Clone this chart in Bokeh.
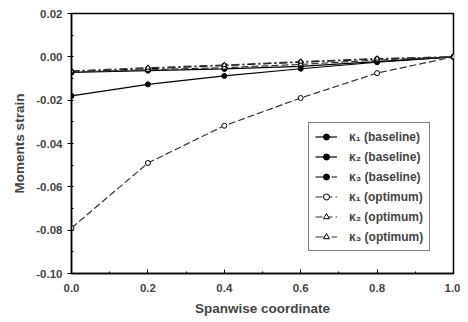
from bokeh.plotting import figure
from bokeh.models import Legend, LegendItem, FixedTicker, Range1d, CustomJSTickFormatter
from bokeh.embed import file_html
from bokeh.resources import INLINE

# Data
x = [0.0, 0.2, 0.4, 0.6, 0.8, 1.0]
k1_base = [-0.0180, -0.0127, -0.0088, -0.0055, -0.0025, 0.0]
k2_base = [-0.0072, -0.0064, -0.0056, -0.0044, -0.0022, 0.0]
k3_base = [-0.0068, -0.0055, -0.0040, -0.0025, -0.0010, 0.0]
k1_opt = [-0.0790, -0.0490, -0.0318, -0.0190, -0.0075, 0.0]
k2_opt = [-0.0070, -0.0060, -0.0050, -0.0035, -0.0015, 0.0]
k3_opt = [-0.0065, -0.0050, -0.0038, -0.0022, -0.0008, 0.0]

labels = ["κ₁ (baseline)", "κ₂ (baseline)", "κ₃ (baseline)",
          "κ₁ (optimum)", "κ₂ (optimum)", "κ₃ (optimum)"]
x_ticks = [0.0, 0.2, 0.4, 0.6, 0.8, 1.0]
y_ticks = [-0.10, -0.08, -0.06, -0.04, -0.02, 0.00, 0.02]

FONT = "Liberation Sans"

p = figure(width=460, height=318, output_backend="svg", toolbar_location=None,
           x_range=Range1d(0.0, 1.0), y_range=Range1d(-0.10, 0.02),
           min_border_left=71, min_border_right=7, min_border_top=13, min_border_bottom=40)

p.xgrid.visible = False
p.ygrid.visible = False
p.outline_line_color = "black"
p.outline_line_width = 1.5
p.background_fill_color = "white"
p.border_fill_color = "white"

series = [
    (k1_base, "solid", "circle", "black", "black"),
    (k2_base, "solid", "circle", "black", "black"),
    (k3_base, "8 3 2 3", "circle", "black", "black"),
    (k1_opt, "7 3", "circle", "white", "#333333"),
    (k2_opt, "7 3", "triangle", "white", "#333333"),
    (k3_opt, "8 3 2 3", "triangle", "white", "#333333"),
]

items = []
for (ys, dash, marker, fill, col), lab in zip(series, labels):
    r1 = p.line(x, ys, line_color=col, line_width=1.2, line_dash=dash)
    r2 = p.scatter(x, ys, marker=marker, size=5, line_color="black", fill_color=fill, line_width=1)
    items.append(LegendItem(label=lab, renderers=[r1, r2]))

legend = Legend(items=items, location=(237, 22), label_text_font=FONT,
                label_text_font_size="12px", label_text_font_style="bold",
                glyph_height=15, glyph_width=22, spacing=5, padding=6,
                border_line_color="black", border_line_width=1,
                label_standoff=12, background_fill_alpha=1)
p.add_layout(legend, "center")

p.xaxis.ticker = FixedTicker(ticks=x_ticks, minor_ticks=[i / 10 for i in range(11)])
p.yaxis.ticker = FixedTicker(ticks=y_ticks, minor_ticks=[i / 100 for i in range(-10, 3)])
p.xaxis.formatter = CustomJSTickFormatter(code="return tick.toFixed(1);")
p.yaxis.formatter = CustomJSTickFormatter(code="return tick.toFixed(2);")

for ax in (p.xaxis, p.yaxis):
    ax.axis_line_color = "black"
    ax.axis_line_width = 1.5
    ax.major_tick_line_color = "black"
    ax.minor_tick_line_color = "black"
    ax.major_label_text_font = FONT
    ax.major_label_text_font_size = "11.5px"
    ax.major_label_text_font_style = "bold"
    ax.axis_label_text_font = FONT
    ax.axis_label_text_font_size = "13.5px"
    ax.axis_label_text_font_style = "bold"

p.xaxis.major_tick_in = 4
p.xaxis.major_tick_out = 0
p.xaxis.minor_tick_in = 2
p.xaxis.minor_tick_out = 0
p.xaxis.major_label_standoff = 10
p.yaxis.major_tick_in = 0
p.yaxis.major_tick_out = 4
p.yaxis.minor_tick_in = 2
p.yaxis.minor_tick_out = 0

p.xaxis.axis_label = "Spanwise coordinate"
p.yaxis.axis_label = "Moments strain"
p.xaxis.axis_label_standoff = 6
p.yaxis.axis_label_standoff = 6

open("out.html", "w").write(file_html(p, INLINE))
